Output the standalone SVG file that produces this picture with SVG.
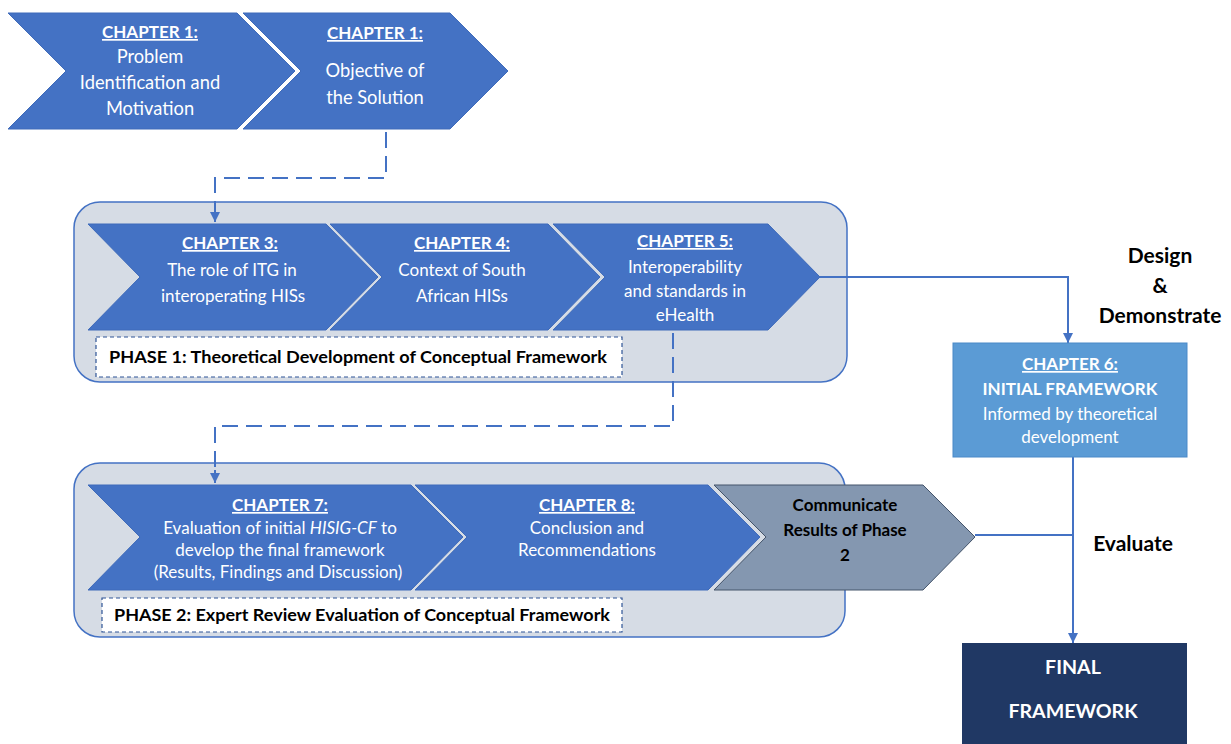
<svg xmlns="http://www.w3.org/2000/svg" width="1231" height="744" viewBox="0 0 1231 744">
  <style>
    .chev { fill: #4472C4; stroke: #3F6BBA; stroke-width: 1; }
    .chev-grey { fill: #8497B0; stroke: #44546A; stroke-width: 1; }
    .phase { fill: #D6DCE5; stroke: #4472C4; stroke-width: 1.5; }
    .label { fill: #FFFFFF; stroke: #2F5597; stroke-width: 1.2; stroke-dasharray: 4 3; }
    .conn { fill: none; stroke: #4472C4; stroke-width: 2; }
    .dash { stroke-dasharray: 16 8; }
    text { font-family: Lato, "Open Sans", "Liberation Sans", sans-serif; text-anchor: middle; }
    .w { fill: #FFFFFF; font-size: 17px; }
    .big { font-size: 18.3px; }
    .final { font-size: 19.6px; }
    .hd { font-weight: bold; text-decoration: underline; }
    .b { font-weight: bold; }
    .k { fill: #000000; }
  </style>
  <defs>
    <marker id="arrow" viewBox="0 0 10 10" refX="10" refY="5" markerWidth="5" markerHeight="5" orient="auto" markerUnits="strokeWidth">
      <path d="M0,0 L10,5 L0,10 Z" fill="#4472C4"/>
    </marker>
  </defs>

  <!-- phase containers -->
  <g id="phase1">
    <rect class="phase" x="74" y="202" width="773" height="180" rx="26"/>
    <rect class="label" x="96" y="337" width="526" height="40"/>
    <text class="k b" x="358" y="363" font-size="17" textLength="498" lengthAdjust="spacingAndGlyphs">PHASE 1: Theoretical Development of Conceptual Framework</text>
  </g>
  <g id="phase2">
    <rect class="phase" x="74" y="463" width="771" height="174" rx="26"/>
    <rect class="label" x="102" y="598" width="520" height="34"/>
    <text class="k b" x="362" y="621" font-size="17" textLength="496" lengthAdjust="spacingAndGlyphs">PHASE 2: Expert Review Evaluation of Conceptual Framework</text>
  </g>

  <!-- connectors -->
  <g id="connectors">
    <path class="conn dash" d="M386,132 V178 H215 V214" />
    <path class="conn" d="M215,212 V222" marker-end="url(#arrow)"/>
    <path class="conn dash" d="M673,333 V426 H215 V472" />
    <path class="conn" d="M215,470 V483" marker-end="url(#arrow)"/>
    <path class="conn" d="M820,277 H1068 V343" marker-end="url(#arrow)"/>
    <path class="conn" d="M1073,457 V643" marker-end="url(#arrow)"/>
    <path class="conn" d="M975,535 H1073"/>
  </g>

  <!-- chapter 1: problem identification -->
  <g id="ch1a">
    <polygon class="chev" points="8,13 237,13 295,71 237,129 8,129 66,71"/>
    <text class="w hd" x="150" y="38">CHAPTER 1:</text>
    <text class="w big" x="150" y="63">Problem</text>
    <text class="w big" x="150" y="89">Identification and</text>
    <text class="w big" x="150" y="115">Motivation</text>
  </g>
  <!-- chapter 1: objective -->
  <g id="ch1b">
    <polygon class="chev" points="243,13 450,13 508,71 450,129 243,129 301,71"/>
    <text class="w hd" x="375" y="39">CHAPTER 1:</text>
    <text class="w big" x="375" y="77">Objective of</text>
    <text class="w big" x="375" y="104">the Solution</text>
  </g>

  <!-- phase 1 chapters -->
  <g id="ch3">
    <polygon class="chev" points="88,224 326,224 378,277 326,330 88,330 140,277"/>
    <text class="w hd" x="230" y="249">CHAPTER 3:</text>
    <text class="w" x="232" y="276">The role of ITG in</text>
    <text class="w" x="233" y="302">interoperating HISs</text>
  </g>
  <g id="ch4">
    <polygon class="chev" points="330,224 548,224 600,277 548,330 330,330 382,277"/>
    <text class="w hd" x="462" y="249">CHAPTER 4:</text>
    <text class="w" x="462" y="276">Context of South</text>
    <text class="w" x="462" y="302">African HISs</text>
  </g>
  <g id="ch5">
    <polygon class="chev" points="553,224 768,224 820,277 768,330 553,330 605,277"/>
    <text class="w hd" x="685" y="247">CHAPTER 5:</text>
    <text class="w" x="685" y="273">Interoperability</text>
    <text class="w" x="685" y="297">and standards in</text>
    <text class="w" x="685" y="321">eHealth</text>
  </g>

  <!-- phase 2 chapters -->
  <g id="ch7">
    <polygon class="chev" points="88,485 411,485 463,537 411,590 88,590 140,537"/>
    <text class="w hd" x="280" y="511">CHAPTER 7:</text>
    <text class="w" x="280" y="534">Evaluation of initial <tspan font-style="italic">HISIG-CF</tspan> to</text>
    <text class="w" x="280" y="556">develop the final framework</text>
    <text class="w" x="278" y="578">(Results, Findings and Discussion)</text>
  </g>
  <g id="ch8">
    <polygon class="chev" points="415,485 708,485 760,537 708,590 415,590 467,537"/>
    <text class="w hd" x="587" y="511">CHAPTER 8:</text>
    <text class="w" x="587" y="534">Conclusion and</text>
    <text class="w" x="587" y="556">Recommendations</text>
  </g>
  <g id="communicate">
    <polygon class="chev-grey" points="714,485 923,485 975,537 923,590 714,590 766,537"/>
    <text class="k b" x="845" y="511" font-size="17">Communicate</text>
    <text class="k b" x="845" y="536" font-size="17">Results of Phase</text>
    <text class="k b" x="845" y="561" font-size="17">2</text>
  </g>

  <!-- chapter 6 -->
  <g id="ch6">
    <rect x="953" y="343" width="234" height="114" fill="#5B9BD5" stroke="#4A89C8" stroke-width="1"/>
    <text class="w hd" x="1070" y="370">CHAPTER 6:</text>
    <text class="w b" x="1070" y="395">INITIAL FRAMEWORK</text>
    <text class="w" x="1070" y="420">Informed by theoretical</text>
    <text class="w" x="1070" y="443">development</text>
  </g>

  <!-- final framework -->
  <g id="final">
    <rect x="962" y="643" width="225" height="110" fill="#203864"/>
    <text class="w b final" x="1073" y="674">FINAL</text>
    <text class="w b final" x="1073" y="718">FRAMEWORK</text>
  </g>

  <!-- stage labels -->
  <g id="stage-labels">
    <text class="k b" x="1160" y="263" font-size="21">Design</text>
    <text class="k b" x="1160" y="293" font-size="21">&amp;</text>
    <text class="k b" x="1160" y="323" font-size="21">Demonstrate</text>
    <text class="k b" x="1133" y="551" font-size="21">Evaluate</text>
  </g>
</svg>
